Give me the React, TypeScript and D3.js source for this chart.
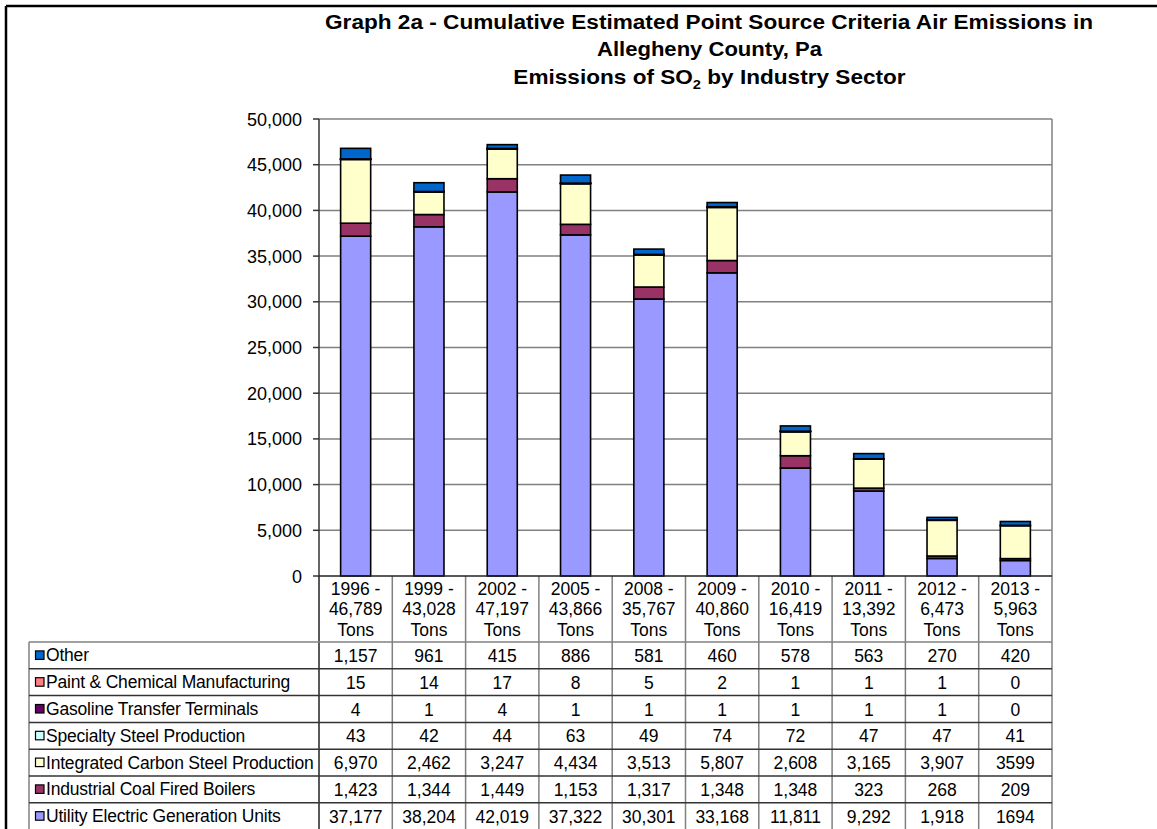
import React from "react";
import * as d3 from "d3";

const years = ["1996", "1999", "2002", "2005", "2008", "2009", "2010", "2011", "2012", "2013"];
const totals = ["46,789", "43,028", "47,197", "43,866", "35,767", "40,860", "16,419", "13,392", "6,473", "5,963"];

const sectors = [
  "Utility Electric Generation Units",
  "Industrial Coal Fired Boilers",
  "Integrated Carbon Steel Production",
  "Specialty Steel Production",
  "Gasoline Transfer Terminals",
  "Paint & Chemical Manufacturing",
  "Other",
];
const sectorColors = ["#9999FF", "#993366", "#FFFFCC", "#CCFFFF", "#660066", "#FF8080", "#0066CC"];

const utility = [37177, 38204, 42019, 37322, 30301, 33168, 11811, 9292, 1918, 1694];
const coalBoilers = [1423, 1344, 1449, 1153, 1317, 1348, 1348, 323, 268, 209];
const carbonSteel = [6970, 2462, 3247, 4434, 3513, 5807, 2608, 3165, 3907, 3599];
const specialtySteel = [43, 42, 44, 63, 49, 74, 72, 47, 47, 41];
const gasoline = [4, 1, 4, 1, 1, 1, 1, 1, 1, 0];
const paintChem = [15, 14, 17, 8, 5, 2, 1, 1, 1, 0];
const other = [1157, 961, 415, 886, 581, 460, 578, 563, 270, 420];

const seriesValues = [utility, coalBoilers, carbonSteel, specialtySteel, gasoline, paintChem, other];
// cells printed without thousands separator in the source table: [sectorIndex, yearIndex]
const plainCells = [[2, 9], [0, 9]];

const yTicks = [0, 5000, 10000, 15000, 20000, 25000, 30000, 35000, 40000, 45000, 50000];

const titleLines = [
  "Graph 2a - Cumulative Estimated Point Source Criteria Air Emissions in",
  "Allegheny County,  Pa",
];

const FONT = "'Liberation Sans', Arial, sans-serif";

export default function App() {
  const W = 1157;
  const H = 829;
  const plotLeft = 319;
  const plotRight = 1052;
  const plotTop = 119;
  const plotBottom = 576;

  const x = d3.scaleBand<string>().domain(years).range([plotLeft, plotRight]).padding(0);
  const y = d3.scaleLinear().domain([0, 50000]).range([plotBottom, plotTop]);
  const bw = x.bandwidth();
  const barW = bw * 0.41;

  const table = years.map((yr, i) => {
    const row: any = { year: yr };
    sectors.forEach((s, k) => (row[s] = seriesValues[k][i]));
    return row;
  });
  const stacked = d3.stack<any>().keys(sectors)(table);

  const fmt = d3.format(",");
  const cellText = (k: number, i: number) =>
    plainCells.some(([a, b]) => a === k && b === i) ? String(seriesValues[k][i]) : fmt(seriesValues[k][i]);

  const headerTop = plotBottom;
  const rowTop = 642;
  const rowH = 26.8;
  const tableLeft = 29;
  const rowOrder = [6, 5, 4, 3, 2, 1, 0];
  const fs = 17.5;

  return (
    <svg
      width={W}
      height={H}
      style={{ position: "absolute", left: 0, top: 0, background: "#fff" }}
      fontFamily={FONT}
    >
      <rect x={0} y={0} width={W} height={H} fill="#fff" />
      {/* outer border */}
      <line x1={6} y1={6} x2={W} y2={6} stroke="#000" strokeWidth={2.5} />
      <line x1={6} y1={6} x2={6} y2={H} stroke="#000" strokeWidth={2.5} />

      {/* title */}
      <g fontWeight="bold" fontSize={20} textAnchor="middle" fill="#000">
        <text x={709} y={29} textLength={768} lengthAdjust="spacingAndGlyphs">{titleLines[0]}</text>
        <text x={709.5} y={56} textLength={225} lengthAdjust="spacingAndGlyphs">{titleLines[1]}</text>
        <g transform="translate(709.5,84) scale(1.13,1)">
          <text x={0} y={0}>
            <tspan>Emissions of SO</tspan>
            <tspan fontSize={13} dy={5}>2</tspan>
            <tspan dy={-5}> by Industry Sector</tspan>
          </text>
        </g>
      </g>

      {/* gridlines */}
      {yTicks.slice(1).map((t) => (
        <line key={t} x1={plotLeft} x2={plotRight} y1={y(t)} y2={y(t)} stroke="#808080" strokeWidth={1.5} />
      ))}
      <line x1={plotRight} x2={plotRight} y1={plotTop} y2={plotBottom} stroke="#808080" strokeWidth={1.5} />

      {/* bars */}
      {stacked.map((layer, k) => (
        <g key={layer.key}>
          {layer.map((d, i) => {
            const h = y(d[0]) - y(d[1]);
            if (h <= 0) return null;
            return (
              <rect
                key={i}
                x={x(years[i])! + (bw - barW) / 2}
                y={y(d[1])}
                width={barW}
                height={h}
                fill={sectorColors[k]}
                stroke="#000"
                strokeWidth={1.6}
              />
            );
          })}
        </g>
      ))}

      {/* y axis */}
      <line x1={plotLeft} x2={plotLeft} y1={plotTop} y2={plotBottom} stroke="#333" strokeWidth={1.5} />
      {yTicks.map((t) => (
        <g key={t}>
          <line x1={plotLeft - 6} x2={plotLeft} y1={y(t)} y2={y(t)} stroke="#333" strokeWidth={1.5} />
          <text x={302} y={y(t) + 6.5} textAnchor="end" fontSize={18} fill="#000">
            {fmt(t)}
          </text>
        </g>
      ))}

      {/* data table: header */}
      {years.map((yr, i) => {
        const cx = x(yr)! + bw / 2;
        return (
          <g key={yr} fontSize={fs} textAnchor="middle" fill="#000">
            <text x={cx} y={595}>{yr + " -"}</text>
            <text x={cx} y={615}>{totals[i]}</text>
            <text x={cx} y={636}>Tons</text>
          </g>
        );
      })}

      {/* table grid */}
      {years.map((yr) => (
        <line key={yr} x1={x(yr)! + bw} x2={x(yr)! + bw} y1={headerTop} y2={H} stroke="#808080" strokeWidth={1.5} />
      ))}
      <line x1={plotLeft} x2={plotLeft} y1={headerTop} y2={H} stroke="#222" strokeWidth={1.5} />
      <line x1={tableLeft} x2={tableLeft} y1={rowTop} y2={H} stroke="#808080" strokeWidth={1.5} />
      {rowOrder.map((k, r) => (
        <line
          key={k}
          x1={tableLeft}
          x2={plotRight}
          y1={rowTop + r * rowH}
          y2={rowTop + r * rowH}
          stroke={r === 0 ? "#808080" : "#333"}
          strokeWidth={1.5}
        />
      ))}
      <line x1={plotLeft} x2={plotRight} y1={plotBottom} y2={plotBottom} stroke="#222" strokeWidth={1.5} />

      {/* table rows */}
      {rowOrder.map((k, r) => {
        const cy = rowTop + r * rowH + rowH / 2;
        return (
          <g key={sectors[k]}>
            <rect x={35.5} y={cy - 4.5} width={8.5} height={8.5} fill={sectorColors[k]} stroke="#000" strokeWidth={1.2} />
            <text x={46} y={cy + 6} fontSize={fs} fill="#000" letterSpacing={-0.2}>
              {sectors[k]}
            </text>
            {years.map((yr, i) => (
              <text key={yr} x={x(yr)! + bw / 2} y={cy + 6.5} fontSize={fs} textAnchor="middle" fill="#000">
                {cellText(k, i)}
              </text>
            ))}
          </g>
        );
      })}
    </svg>
  );
}
